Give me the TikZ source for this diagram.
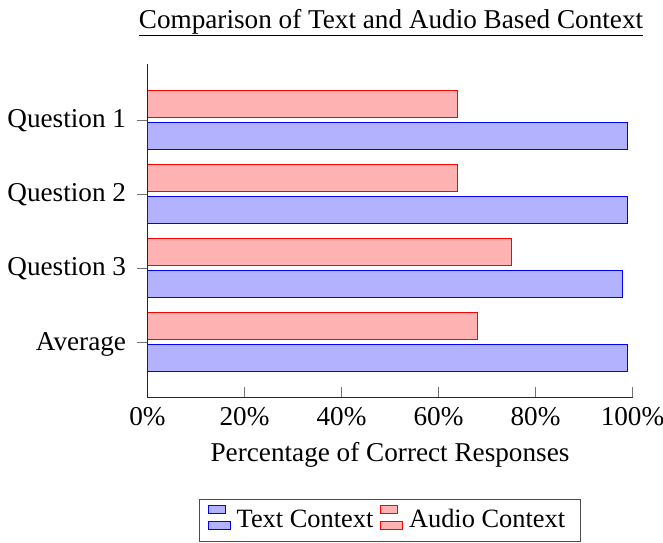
\documentclass[tikz,border=0pt]{standalone}
\usepackage{fontspec}
\setmainfont{Liberation Serif}
\begin{document}
\begin{tikzpicture}[x=1pt,y=-1pt,
  font=\fontsize{27.2}{31}\selectfont,
  txtbar/.style={draw=blue, fill=blue!30, line width=1pt},
  audbar/.style={draw=red, fill=red!30, line width=1pt},
  axisline/.style={line width=1pt, black!85},
  tickmark/.style={line width=0.7pt, black!55},
  lbl/.style={inner sep=0pt, outer sep=0pt},
  legtxt/.style={lbl, font=\fontsize{26.4}{30}\selectfont},
  legbox/.style={draw=black!70, line width=1pt}]
\useasboundingbox (0,0) rectangle (663,542);
% title
\node[lbl, anchor=base] (title) at (391,28.3) {\underline{Comparison of Text and Audio Based Context}};
% bars, y ticks and labels
\foreach \t/\a/\b/\lab/\n in {120/64/99/Question 1/q1, 194.2/64/99/Question 2/q2, 268.4/75/98/Question 3/q3, 342.6/68/99/Average/avg}{
  \fill[audbar] (147.5,\t-29.8) rectangle ({147.5+4.85*\a},\t-2.8);
  \fill[txtbar] (147.5,\t+2.3) rectangle ({147.5+4.85*\b},\t+29.2);
  \draw[audbar, fill=none] (147.5,\t-29.8) rectangle ({147.5+4.85*\a},\t-2.8);
  \draw[txtbar, fill=none] (147.5,\t+2.3) rectangle ({147.5+4.85*\b},\t+29.2);
  \draw[tickmark] (136.5,\t) -- (147.5,\t);
  \node[lbl, anchor=base east] (\n) at (126,\t+7.4) {\lab};
}
% x ticks and labels
\foreach \p/\n in {0/x0, 20/x20, 40/x40, 60/x60, 80/x80, 100/x100}{
  \draw[tickmark] ({147.5+4.85*\p},386.7) -- ({147.5+4.85*\p},397.7);
  \node[lbl, anchor=base] (\n) at ({147.5+4.85*\p},425) {\p\%};
}
% axes
\draw[axisline] (147.5,64) -- (147.5,397.7) -- (632.5,397.7);
\node[lbl, anchor=base] (xlabel) at (390,461.7) {Percentage of Correct Responses};
% legend
\draw[legbox] (199.3,499) rectangle (580.7,541);
\draw[txtbar] (208.3,505.7) rectangle (225,513.3);
\draw[txtbar] (208.3,521.7) rectangle (230,529);
\node[legtxt, anchor=base west] (legtext) at (236.7,527.3) {Text Context};
\draw[audbar] (380.7,505.7) rectangle (397.3,513.3);
\draw[audbar] (380.7,521.7) rectangle (402.3,529);
\node[legtxt, anchor=base west] (legaudio) at (409,527.3) {Audio Context};
\end{tikzpicture}
\end{document}
